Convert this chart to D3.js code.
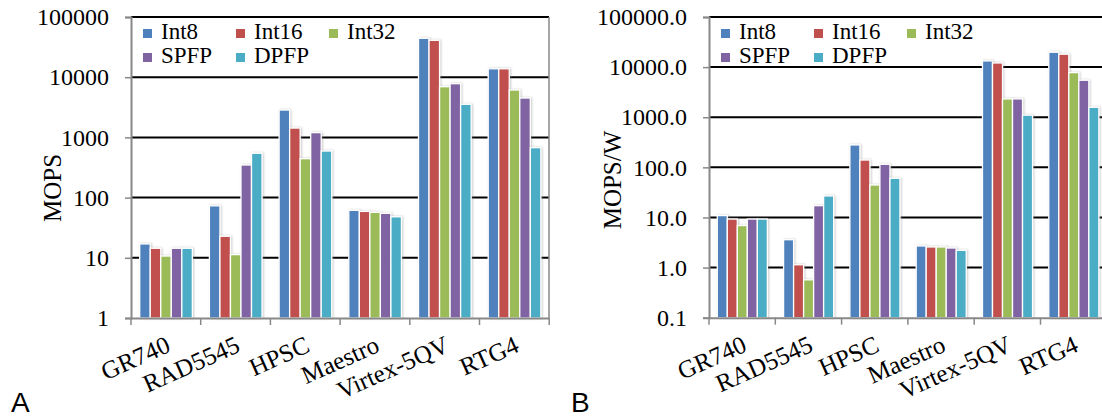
<!DOCTYPE html>
<html>
<head>
<meta charset="utf-8">
<script src="https://cdn.jsdelivr.net/npm/d3@7"></script>
<style>
  body { margin: 0; background: #fff; }
  svg { display: block; }
</style>
</head>
<body>
<div id="chart"></div>
<script>
// categories and series
var categories = ["GR740", "RAD5545", "HPSC", "Maestro", "Virtex-5QV", "RTG4"];
var seriesNames = ["Int8", "Int16", "Int32", "SPFP", "DPFP"];
var seriesColors = ["#4F81BD", "#C0504D", "#9BBB59", "#8064A2", "#4BACC6"];

// panel A: MOPS
var mopsInt8  = [17, 73, 2850, 61.5, 44300, 13800];
var mopsInt16 = [14.4, 22.8, 1430, 59, 41000, 13800];
var mopsInt32 = [10.7, 11.3, 443, 57, 6950, 6130];
var mopsSPFP  = [14.4, 348, 1200, 54.8, 7800, 4510];
var mopsDPFP  = [14.4, 545, 594, 48, 3550, 675];
var mopsTicks = [1, 10, 100, 1000, 10000, 100000];

// panel B: MOPS/W
var mopswInt8  = [10.9, 3.6, 280, 2.7, 13300, 19800];
var mopswInt16 = [9.3, 1.14, 140, 2.58, 12100, 18100];
var mopswInt32 = [6.9, 0.57, 44.5, 2.58, 2320, 7770];
var mopswSPFP  = [9.3, 17.2, 115, 2.46, 2320, 5470];
var mopswDPFP  = [9.3, 26.9, 60.5, 2.21, 1100, 1580];
var mopswTicks = [0.1, 1, 10, 100, 1000, 10000, 100000];

var W = 1102, H = 419;
var serif = "'Liberation Serif', 'Times New Roman', serif";

var svg = d3.select("#chart").append("svg")
    .attr("width", W)
    .attr("height", H);

var defs = svg.append("defs");
var f = defs.append("filter").attr("id", "shadow")
    .attr("x", "-30%").attr("y", "-5%").attr("width", "160%").attr("height", "110%");
f.append("feDropShadow")
    .attr("dx", 1).attr("dy", 0).attr("stdDeviation", 1)
    .attr("flood-color", "#888").attr("flood-opacity", 0.45);

function drawPanel(opts) {
  var x0 = d3.scaleBand()
      .domain(categories)
      .range([opts.left, opts.left + opts.band * categories.length])
      .padding(0);
  var x1 = d3.scaleBand()
      .domain(seriesNames)
      .range([opts.band * 0.125, opts.band * 0.88])
      .padding(0);
  var y = d3.scaleLog()
      .domain([opts.ticks[0], opts.ticks[opts.ticks.length - 1]])
      .range([opts.bottom, opts.top]);

  var g = svg.append("g");

  // gridlines
  g.selectAll(".grid")
    .data(opts.ticks.slice(1))
    .enter().append("line")
      .attr("x1", opts.left)
      .attr("x2", opts.right)
      .attr("y1", function(d) { return y(d); })
      .attr("y2", function(d) { return y(d); })
      .attr("stroke", "#000")
      .attr("stroke-width", 2);

  // right edge
  g.append("line")
    .attr("x1", opts.right).attr("x2", opts.right)
    .attr("y1", opts.top).attr("y2", opts.bottom)
    .attr("stroke", "#888").attr("stroke-width", 1.5);

  // bars
  var rows = categories.map(function(c, i) {
    return seriesNames.map(function(s, j) {
      return {cat: c, series: s, val: opts.values[j][i], color: seriesColors[j]};
    });
  });

  g.selectAll(".grp")
    .data(rows)
    .enter().append("g")
      .attr("transform", function(d) { return "translate(" + x0(d[0].cat) + ",0)"; })
    .selectAll("rect")
    .data(function(d) { return d; })
    .enter().append("rect")
      .attr("x", function(d) { return x1(d.series); })
      .attr("width", x1.bandwidth())
      .attr("y", function(d) { return y(d.val); })
      .attr("height", function(d) { return opts.bottom - y(d.val); })
      .attr("fill", function(d) { return d.color; })
      .attr("stroke", "#fff")
      .attr("stroke-width", 1.3)
      .attr("filter", "url(#shadow)");

  // y axis
  var yAxis = g.append("g")
      .attr("transform", "translate(" + opts.left + ",0)")
      .call(d3.axisLeft(y)
        .tickValues(opts.ticks)
        .tickFormat(opts.fmt)
        .tickSize(6)
        .tickPadding(16));
  yAxis.select(".domain").attr("stroke", "#888").attr("stroke-width", 2);
  yAxis.selectAll(".tick line").attr("stroke", "#888").attr("stroke-width", 1.5);
  yAxis.selectAll("text")
      .attr("font-family", serif)
      .attr("font-size", 24)
      .attr("fill", "#000");

  // x axis
  var xAxis = g.append("g")
      .attr("transform", "translate(0," + opts.bottom + ")")
      .call(d3.axisBottom(x0).tickSize(0).tickFormat(""));
  xAxis.select(".domain").attr("stroke", "#888").attr("stroke-width", 2);
  var bounds = d3.range(categories.length + 1).map(function(i) { return opts.left + i * opts.band; });
  xAxis.selectAll(".bound")
    .data(bounds)
    .enter().append("line")
      .attr("x1", function(d) { return d; })
      .attr("x2", function(d) { return d; })
      .attr("y1", 0)
      .attr("y2", 7)
      .attr("stroke", "#888")
      .attr("stroke-width", 1.5);

  g.selectAll(".xlab")
    .data(categories)
    .enter().append("text")
      .attr("transform", function(d) {
        return "translate(" + (x0(d) + x0.bandwidth() / 2 + 6) + "," + (opts.bottom + 33) + ") rotate(-24)";
      })
      .attr("text-anchor", "end")
      .attr("font-family", serif)
      .attr("font-size", 25)
      .text(function(d) { return d; });

  // y title
  g.append("text")
    .attr("transform", "translate(" + opts.titleX + "," + opts.titleY + ") rotate(-90)")
    .attr("text-anchor", "middle")
    .attr("font-family", serif)
    .attr("font-size", 25)
    .text(opts.title);

  // legend
  var leg = g.selectAll(".leg")
    .data(seriesNames)
    .enter().append("g")
      .attr("transform", function(d, i) {
        return "translate(" + (opts.left + 12 + (i % 3) * 93) + "," + (39 + Math.floor(i / 3) * 24) + ")";
      });
  leg.append("rect")
    .attr("x", 0).attr("y", -10)
    .attr("width", 9).attr("height", 9)
    .attr("fill", function(d, i) { return seriesColors[i]; });
  leg.append("text")
    .attr("x", 18)
    .attr("font-family", serif)
    .attr("font-size", 23)
    .text(function(d) { return d; });

  // panel letter
  svg.append("text")
    .attr("x", opts.letterX)
    .attr("y", 412)
    .attr("font-family", "'Liberation Sans', Arial, sans-serif")
    .attr("font-size", 28)
    .text(opts.letter);
}

drawPanel({
  left: 131, band: 69.7, right: 549, top: 17, bottom: 318,
  ticks: mopsTicks,
  fmt: d3.format("d"),
  values: [mopsInt8, mopsInt16, mopsInt32, mopsSPFP, mopsDPFP],
  title: "MOPS", titleX: 61, titleY: 188,
  letter: "A", letterX: 11
});

drawPanel({
  left: 709, band: 66.3, right: 1107, top: 17, bottom: 317.7,
  ticks: mopswTicks,
  fmt: d3.format(".1f"),
  values: [mopswInt8, mopswInt16, mopswInt32, mopswSPFP, mopswDPFP],
  title: "MOPS/W", titleX: 621, titleY: 180,
  letter: "B", letterX: 571
});
</script>
</body>
</html>
